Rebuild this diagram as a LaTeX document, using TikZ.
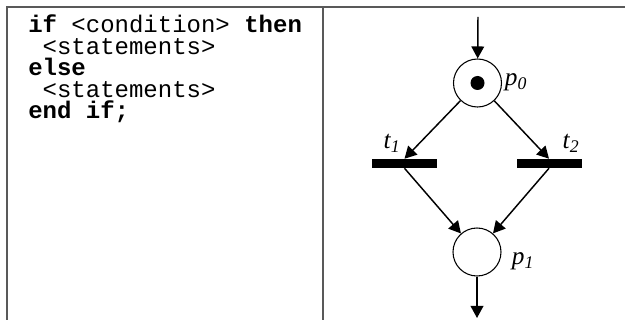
\documentclass[tikz,border=0pt]{standalone}
\usepackage{fontspec}
\setmainfont{Liberation Serif}
\setmonofont{Liberation Mono}
\usetikzlibrary{arrows.meta}
\begin{document}
\begin{tikzpicture}[x=0.75pt,y=-0.75pt,
  frame/.style={draw=black!65, line width=1.5pt},
  code/.style={anchor=base west, inner sep=0pt, text height=10pt, text depth=2.5pt, font=\ttfamily\fontsize{18}{20}\selectfont},
  place/.style={circle, draw, line width=0.8pt, minimum size=36pt, inner sep=0pt},
  token/.style={circle, fill=black, minimum size=10.5pt, inner sep=0pt},
  bar/.style={rectangle, fill=black, minimum width=48.75pt, minimum height=6.75pt, inner sep=0pt},
  lbl/.style={font=\itshape\fontsize{19}{20}\selectfont, inner sep=0pt},
  arc/.style={draw, line width=1.1pt, -{Triangle[length=9pt,width=9.5pt]}}]
\useasboundingbox (0,0) rectangle (625,320);
% frame
\draw[frame] (7,320) -- (7,7) -- (625,7);
\draw[frame] (323,7) -- (323,320);
% code
\node[code] (l1) at (28,33) {\textbf{if} <condition> \textbf{then}};
\node[code] (l2) at (28,54.5) {~<statements>};
\node[code] (l3) at (28,76) {\textbf{else}};
\node[code] (l4) at (28,97.5) {~<statements>};
\node[code] (l5) at (28,119) {\textbf{end if;}};
% net
\node[place] (p0) at (477.5,83) {};
\node[token] (tok) at (p0) {};
\node[place] (p1) at (477,252) {};
\node[bar] (t1) at (404.5,163.5) {};
\node[bar] (t2) at (549,163.5) {};
\node[lbl] (lp0) at (516,82) {p\textsubscript{0}};
\node[lbl] (lt1) at (392,143) {t\textsubscript{1}};
\node[lbl] (lt2) at (571,143) {t\textsubscript{2}};
\node[lbl] (lp1) at (523,261) {p\textsubscript{1}};
\coordinate (in) at (478,17);
\coordinate (out) at (477,318);
\draw[arc] (in) -- (p0);
\draw[arc] (p0) -- (t1.north);
\draw[arc] (p0) -- (t2.north);
\draw[arc] (t1.south) -- (p1);
\draw[arc] (t2.south) -- (p1);
\draw[arc] (p1) -- (out);
\end{tikzpicture}
\end{document}
